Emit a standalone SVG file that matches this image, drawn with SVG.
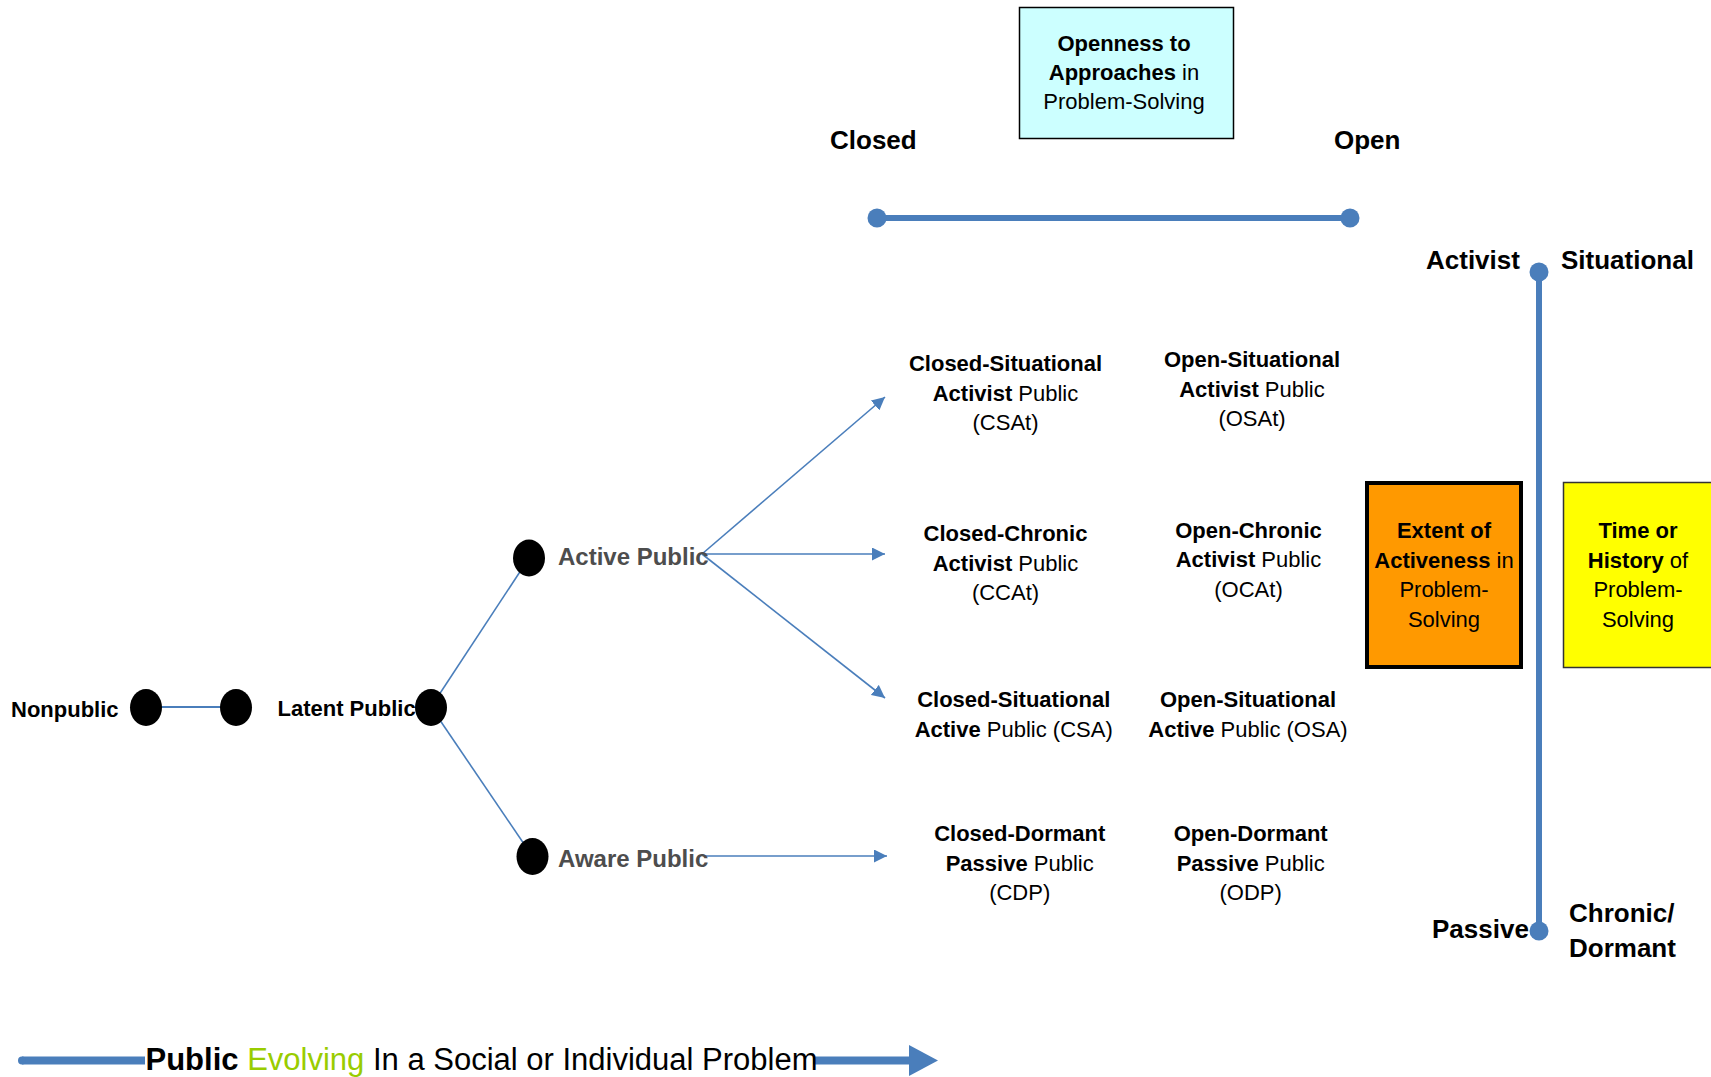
<svg xmlns="http://www.w3.org/2000/svg" width="1711" height="1077" viewBox="0 0 1711 1077">
<defs>
<style>
text{font-family:"Liberation Sans",Arial,sans-serif;fill:#000}
.b{font-weight:bold}
.t22{font-size:22px}
.t26{font-size:26px;font-weight:bold}
.mid{text-anchor:middle}
.gray{fill:#4d4d4d;font-size:24px;font-weight:bold}
.thin{stroke:#4a7ebb;stroke-width:1.6;fill:none}
.scale{stroke:#4a7ebb;stroke-width:6;fill:none}
.dotb{fill:#4a7ebb}
.dot{fill:#000}
</style>
<marker id="arr" viewBox="0 0 10 10" refX="10" refY="5" markerWidth="13" markerHeight="13" markerUnits="userSpaceOnUse" orient="auto">
<path d="M0,0 L10,5 L0,10 z" fill="#4a7ebb"/>
</marker>
</defs>
<rect width="1711" height="1077" fill="#fff"/>

<g id="connectors">
<line class="thin" x1="146" y1="707" x2="236" y2="707" style="stroke-width:2.2"/>
<line class="thin" x1="431" y1="707" x2="529" y2="558"/>
<line class="thin" x1="431" y1="707" x2="532.5" y2="856.5"/>
<line class="thin" x1="702" y1="554" x2="885" y2="397" marker-end="url(#arr)"/>
<line class="thin" x1="702" y1="554" x2="885" y2="554" marker-end="url(#arr)"/>
<line class="thin" x1="702" y1="554" x2="885" y2="698" marker-end="url(#arr)"/>
<line class="thin" x1="705" y1="856" x2="887" y2="856" marker-end="url(#arr)"/>
</g>

<g id="openness-axis">
<line class="scale" x1="877" y1="218" x2="1350" y2="218"/>
<circle class="dotb" cx="877" cy="218" r="9.5"/>
<circle class="dotb" cx="1350" cy="218" r="9.5"/>
<text class="t26" x="830" y="149">Closed</text>
<text class="t26" x="1334" y="149">Open</text>
</g>

<g id="activeness-axis">
<line class="scale" x1="1539" y1="272" x2="1539" y2="931"/>
<circle class="dotb" cx="1539" cy="272" r="9.5"/>
<circle class="dotb" cx="1539" cy="931" r="9.5"/>
<text class="t26" x="1426" y="269">Activist</text>
<text class="t26" x="1561" y="269">Situational</text>
<text class="t26" x="1432" y="938">Passive</text>
<text class="t26" x="1569" y="922">Chronic/</text>
<text class="t26" x="1569" y="957">Dormant</text>
</g>

<g id="openness-box">
<rect x="1019.5" y="7.5" width="214" height="131" fill="#ccffff" stroke="#000" stroke-width="1.5"/>
<text class="t22 mid" x="1124" y="51"><tspan class="b">Openness to</tspan></text>
<text class="t22 mid" x="1124" y="80"><tspan class="b">Approaches</tspan> in</text>
<text class="t22 mid" x="1124" y="109">Problem-Solving</text>
</g>

<g id="activeness-box">
<rect x="1367" y="483" width="154" height="184" fill="#ff9900" stroke="#000" stroke-width="4"/>
<text class="t22 mid" x="1444" y="538"><tspan class="b">Extent of</tspan></text>
<text class="t22 mid" x="1444" y="567.5"><tspan class="b">Activeness</tspan> in</text>
<text class="t22 mid" x="1444" y="597">Problem-</text>
<text class="t22 mid" x="1444" y="626.5">Solving</text>
</g>

<g id="time-box">
<rect x="1563.5" y="482.5" width="160" height="185" fill="#ffff00" stroke="#333" stroke-width="1.5"/>
<text class="t22 mid" x="1638" y="538"><tspan class="b">Time or</tspan></text>
<text class="t22 mid" x="1638" y="567.5"><tspan class="b">History</tspan> of</text>
<text class="t22 mid" x="1638" y="597">Problem-</text>
<text class="t22 mid" x="1638" y="626.5">Solving</text>
</g>

<g id="nonpublic">
<ellipse class="dot" cx="146" cy="707.5" rx="16" ry="18.5"/>
<text class="t22 b" x="11" y="716.5">Nonpublic</text>
</g>
<g id="nonpublic-2">
<ellipse class="dot" cx="236" cy="707.5" rx="16" ry="18.5"/>
</g>
<g id="latent-public">
<ellipse class="dot" cx="431" cy="707.5" rx="16" ry="18.5"/>
<text class="t22 b" x="277.5" y="715.5">Latent Public</text>
</g>
<g id="active-public">
<ellipse class="dot" cx="529" cy="558" rx="16" ry="18.5"/>
<text class="gray" x="558" y="565">Active Public</text>
</g>
<g id="aware-public">
<ellipse class="dot" cx="532.5" cy="856.5" rx="16" ry="18.5"/>
<text class="gray" x="558" y="867">Aware Public</text>
</g>

<g id="csat">
<text class="t22 mid" x="1005.5" y="371"><tspan class="b">Closed-Situational</tspan></text>
<text class="t22 mid" x="1005.5" y="400.5"><tspan class="b">Activist</tspan> Public</text>
<text class="t22 mid" x="1005.5" y="429.5">(CSAt)</text>
</g>
<g id="osat">
<text class="t22 mid" x="1252" y="367"><tspan class="b">Open-Situational</tspan></text>
<text class="t22 mid" x="1252" y="396.5"><tspan class="b">Activist</tspan> Public</text>
<text class="t22 mid" x="1252" y="426">(OSAt)</text>
</g>
<g id="ccat">
<text class="t22 mid" x="1005.5" y="541"><tspan class="b">Closed-Chronic</tspan></text>
<text class="t22 mid" x="1005.5" y="570.5"><tspan class="b">Activist</tspan> Public</text>
<text class="t22 mid" x="1005.5" y="600">(CCAt)</text>
</g>
<g id="ocat">
<text class="t22 mid" x="1248.5" y="537.5"><tspan class="b">Open-Chronic</tspan></text>
<text class="t22 mid" x="1248.5" y="567"><tspan class="b">Activist</tspan> Public</text>
<text class="t22 mid" x="1248.5" y="596.5">(OCAt)</text>
</g>
<g id="csa">
<text class="t22 mid" x="1013.7" y="707"><tspan class="b">Closed-Situational</tspan></text>
<text class="t22 mid" x="1013.7" y="736.5"><tspan class="b">Active</tspan> Public (CSA)</text>
</g>
<g id="osa">
<text class="t22 mid" x="1248" y="707"><tspan class="b">Open-Situational</tspan></text>
<text class="t22 mid" x="1248" y="736.5"><tspan class="b">Active</tspan> Public (OSA)</text>
</g>
<g id="cdp">
<text class="t22 mid" x="1019.7" y="841"><tspan class="b">Closed-Dormant</tspan></text>
<text class="t22 mid" x="1019.7" y="870.5"><tspan class="b">Passive</tspan> Public</text>
<text class="t22 mid" x="1019.7" y="900">(CDP)</text>
</g>
<g id="odp">
<text class="t22 mid" x="1250.7" y="841"><tspan class="b">Open-Dormant</tspan></text>
<text class="t22 mid" x="1250.7" y="870.5"><tspan class="b">Passive</tspan> Public</text>
<text class="t22 mid" x="1250.7" y="900">(ODP)</text>
</g>

<g id="evolution-arrow">
<line x1="22" y1="1060.5" x2="145" y2="1060.5" stroke="#4a7ebb" stroke-width="8"/>
<circle cx="22" cy="1060.5" r="4" fill="#4a7ebb"/>
<line x1="813" y1="1060.5" x2="911" y2="1060.5" stroke="#4a7ebb" stroke-width="8"/>
<polygon points="909,1045 938,1060.5 909,1076" fill="#4a7ebb"/>
<text x="145.5" y="1070" style="font-size:31px"><tspan class="b">Public</tspan> <tspan fill="#99cc00">Evolving</tspan> In a Social or Individual Problem</text>
</g>
</svg>
